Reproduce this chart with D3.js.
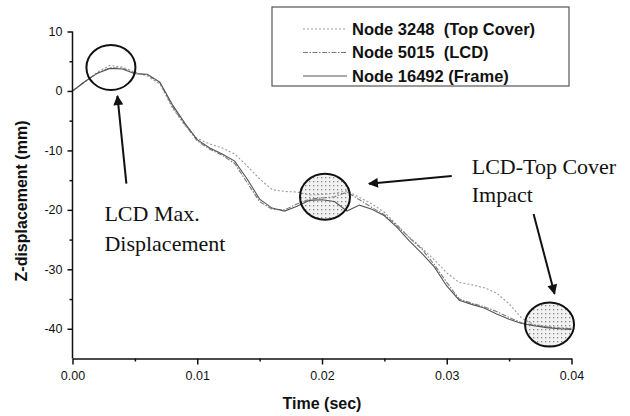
<!DOCTYPE html>
<html>
<head>
  <title>Z-displacement</title>
  <script src="https://d3js.org/d3.v7.min.js"></script>
  <style>
    body { margin: 0; background: #fff; }
  </style>
</head>
<body>
  <svg width="630" height="416"></svg>
  <script>
    // time steps (sec)
    var times = [0.000, 0.001, 0.002, 0.003, 0.004, 0.005, 0.006, 0.007, 0.008, 0.009,
                 0.010, 0.011, 0.012, 0.013, 0.014, 0.015, 0.016, 0.017, 0.018, 0.019,
                 0.020, 0.021, 0.022, 0.023, 0.024, 0.025, 0.026, 0.027, 0.028, 0.029,
                 0.030, 0.031, 0.032, 0.033, 0.034, 0.035, 0.036, 0.037, 0.038, 0.039, 0.040];

    // z-displacement (mm)
    var topCover = [0, 1.5, 3.2, 4.3, 4.0, 3.2, 2.5, 1.2, -2.8, -5.8,
                    -8.0, -8.9, -9.6, -10.6, -12.6, -14.8, -16.6, -16.9, -17.0, -17.5,
                    -17.4, -17.2, -16.8, -17.9, -19.0, -20.4, -22.5, -24.6, -26.4, -28.4,
                    -30.6, -32.2, -32.6, -33.1, -34.0, -35.8, -38.2, -39.3, -39.6, -39.8, -39.9];
    var lcd = [0, 1.6, 3.0, 3.9, 3.8, 3.0, 2.7, 1.4, -2.6, -5.6,
               -8.4, -9.8, -10.8, -12.2, -15.4, -18.6, -19.9, -20.0, -19.0, -18.2,
               -18.0, -17.8, -17.0, -18.3, -19.6, -20.8, -22.6, -24.7, -26.6, -29.2,
               -32.2, -35.0, -35.7, -36.3, -37.1, -38.1, -39.0, -39.4, -39.7, -39.9, -40.0];
    var frame = [0, 1.6, 3.0, 3.8, 3.7, 2.9, 2.8, 1.5, -2.3, -5.4,
                 -8.2, -9.6, -10.6, -11.8, -14.8, -18.2, -19.7, -20.2, -19.4, -18.4,
                 -18.3, -18.6, -20.2, -19.2, -19.9, -21.0, -22.9, -25.2, -27.3, -29.6,
                 -32.8, -35.2, -35.9, -36.5, -37.5, -38.4, -39.1, -39.5, -39.8, -40.0, -40.1];

    var seriesNames = ["Node 3248  (Top Cover)", "Node 5015  (LCD)", "Node 16492 (Frame)"];
    var xTicks = [0, 0.01, 0.02, 0.03, 0.04];
    var xMinor = [0.005, 0.015, 0.025, 0.035];
    var yTicks = [-40, -30, -20, -10, 0, 10];
    var yMinor = [-35, -25, -15, -5, 5];

    var svg = d3.select("svg");

    var x = d3.scaleLinear().domain([0, 0.04]).range([72.5, 571.5]),
        y = d3.scaleLinear().domain([-45, 10]).range([358.5, 31.5]);

    var styles = [
      {color: "#9a9a9a", dash: "2,2", width: 1.1},
      {color: "#7a7a7a", dash: "5,1.5,1.5,1.5", width: 1.1},
      {color: "#555", dash: null, width: 1.1}
    ];

    var series = [topCover, lcd, frame].map(function(vals, i) {
      return {name: seriesNames[i], style: styles[i],
              values: vals.map(function(v, j) { return {t: times[j], v: v}; })};
    });

    // stipple pattern for the impact circles
    var defs = svg.append("defs");
    var pat = defs.append("pattern")
        .attr("id", "dots")
        .attr("width", 4).attr("height", 4)
        .attr("patternUnits", "userSpaceOnUse");
    pat.append("rect").attr("width", 4).attr("height", 4).attr("fill", "#f2f2f2");
    pat.append("rect").attr("x", 1).attr("y", 1).attr("width", 1.3).attr("height", 1.3).attr("fill", "#888");

    var marker = defs.append("marker")
        .attr("id", "head")
        .attr("viewBox", "0 0 10 10")
        .attr("refX", 9).attr("refY", 5)
        .attr("markerWidth", 6).attr("markerHeight", 5)
        .attr("markerUnits", "strokeWidth")
        .attr("orient", "auto");
    marker.append("path").attr("d", "M0,0 L10,5 L0,10 Z").attr("fill", "#111");

    // circles (data units), rx/ry in px
    var circles = [
      {t: 0.00308, v: 3.95, rx: 24.5, ry: 22.5, filled: false},
      {t: 0.02024, v: -17.8, rx: 25, ry: 23, filled: true},
      {t: 0.03824, v: -39.3, rx: 24.5, ry: 22, filled: true}
    ];

    svg.selectAll(".fillc")
      .data(circles.filter(function(c) { return c.filled; }))
      .enter().append("ellipse")
      .attr("cx", function(c) { return x(c.t); })
      .attr("cy", function(c) { return y(c.v); })
      .attr("rx", function(c) { return c.rx; })
      .attr("ry", function(c) { return c.ry; })
      .attr("fill", "url(#dots)");

    var line = d3.line()
        .x(function(d) { return x(d.t); })
        .y(function(d) { return y(d.v); });

    svg.selectAll(".series")
      .data(series)
      .enter().append("path")
      .attr("class", "series")
      .attr("d", function(d) { return line(d.values); })
      .attr("fill", "none")
      .attr("stroke", function(d) { return d.style.color; })
      .attr("stroke-width", function(d) { return d.style.width; })
      .attr("stroke-dasharray", function(d) { return d.style.dash; });

    svg.selectAll(".ring")
      .data(circles)
      .enter().append("ellipse")
      .attr("cx", function(c) { return x(c.t); })
      .attr("cy", function(c) { return y(c.v); })
      .attr("rx", function(c) { return c.rx; })
      .attr("ry", function(c) { return c.ry; })
      .attr("fill", "none")
      .attr("stroke", "#111")
      .attr("stroke-width", 2);

    // axes
    var yAxis = svg.append("g")
        .attr("transform", "translate(72.5,0)")
        .call(d3.axisLeft(y).tickValues(yTicks).tickFormat(function(d) { return String(d); })
          .tickSize(5).tickPadding(5));
    svg.append("g")
        .attr("transform", "translate(72.5,0)")
        .call(d3.axisLeft(y).tickValues(yMinor).tickFormat("").tickSize(3))
        .select(".domain").remove();

    svg.append("g")
        .attr("transform", "translate(0,358.5)")
        .call(d3.axisBottom(x).tickValues(xTicks).tickFormat(d3.format(".2f"))
          .tickSize(6).tickPadding(7).tickSizeOuter(0));
    svg.append("g")
        .attr("transform", "translate(0,358.5)")
        .call(d3.axisBottom(x).tickValues(xMinor).tickFormat("").tickSize(3))
        .select(".domain").remove();

    yAxis.select(".domain").attr("d", "M-0," + y(10) + "V" + y(-45));

    svg.selectAll(".domain, .tick line").attr("stroke", "#111").attr("stroke-width", 1.5);
    svg.selectAll(".tick text")
      .attr("font-family", "Liberation Sans, Arial, sans-serif")
      .attr("font-size", 12.5)
      .attr("fill", "#111");

    svg.append("text")
      .attr("x", (x.range()[0] + x.range()[1]) / 2)
      .attr("y", 409)
      .attr("text-anchor", "middle")
      .attr("font-family", "Liberation Sans, Arial, sans-serif")
      .attr("font-size", 16)
      .attr("font-weight", "bold")
      .attr("fill", "#111")
      .text("Time (sec)");

    svg.append("text")
      .attr("transform", "translate(27,201) rotate(-90)")
      .attr("text-anchor", "middle")
      .attr("font-family", "Liberation Sans, Arial, sans-serif")
      .attr("font-size", 16)
      .attr("font-weight", "bold")
      .attr("fill", "#111")
      .text("Z-displacement (mm)");

    // legend
    var legend = svg.append("g");
    legend.append("rect")
      .attr("x", 272).attr("y", 7).attr("width", 297).attr("height", 79)
      .attr("fill", "#fff").attr("stroke", "#555").attr("stroke-width", 1.2);
    var rows = legend.selectAll(".row")
      .data(series)
      .enter().append("g")
      .attr("transform", function(d, i) { return "translate(0," + (29 + i * 23.5) + ")"; });
    rows.append("line")
      .attr("x1", 303).attr("x2", 347)
      .attr("stroke", function(d) { return d.style.color; })
      .attr("stroke-width", 1.2)
      .attr("stroke-dasharray", function(d) { return d.style.dash; });
    rows.append("text")
      .attr("x", 352).attr("dy", "0.36em")
      .attr("font-family", "Liberation Sans, Arial, sans-serif")
      .attr("font-size", 16.5)
      .attr("font-weight", "bold")
      .attr("fill", "#111")
      .style("white-space", "pre")
      .text(function(d) { return d.name; });

    // annotations (data units)
    var arrows = [
      {t1: 0.00432, v1: -15.6, t2: 0.0036, v2: -0.84},
      {t1: 0.0304, v1: -14.3, t2: 0.02376, v2: -15.6},
      {t1: 0.03696, v1: -20.7, t2: 0.03864, v2: -34.1}
    ];
    svg.selectAll(".arrow")
      .data(arrows)
      .enter().append("line")
      .attr("x1", function(a) { return x(a.t1); })
      .attr("y1", function(a) { return y(a.v1); })
      .attr("x2", function(a) { return x(a.t2); })
      .attr("y2", function(a) { return y(a.v2); })
      .attr("stroke", "#111")
      .attr("stroke-width", 2)
      .attr("marker-end", "url(#head)");

    var notes = [
      {t: 0.00256, v: -21.8, text: "LCD Max."},
      {t: 0.00256, v: -26.9, text: "Displacement"},
      {t: 0.032, v: -13.95, text: "LCD-Top Cover"},
      {t: 0.032, v: -18.65, text: "Impact"}
    ];
    svg.selectAll(".note")
      .data(notes)
      .enter().append("text")
      .attr("x", function(n) { return x(n.t); })
      .attr("y", function(n) { return y(n.v); })
      .attr("font-family", "Liberation Serif, Times New Roman, serif")
      .attr("font-size", 22)
      .attr("fill", "#111")
      .text(function(n) { return n.text; });
  </script>
</body>
</html>
